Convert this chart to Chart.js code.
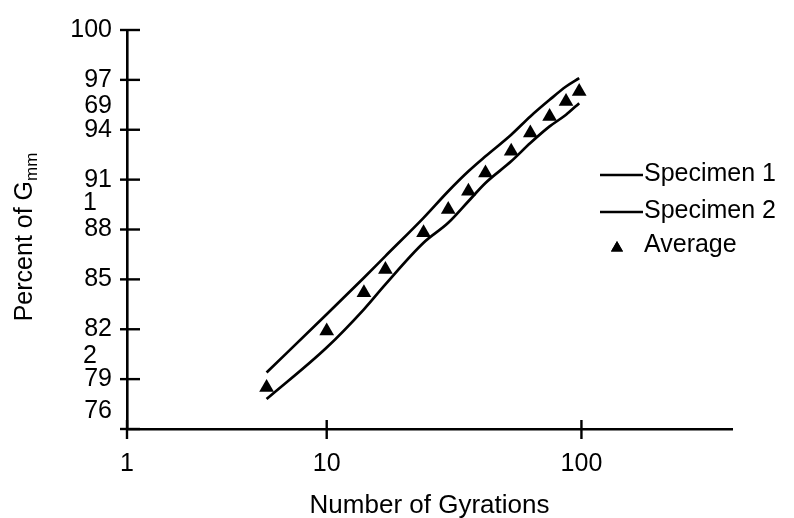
<!DOCTYPE html>
<html>
<head>
<meta charset="utf-8">
<script src="https://cdn.jsdelivr.net/npm/chart.js@4"></script>
<style>
  html, body { margin: 0; padding: 0; background: #fff; }
  #wrap { width: 794px; height: 518px; }
</style>
</head>
<body>
<div id="wrap"><canvas id="gyrationChart" width="794" height="518"></canvas></div>
<script>
// Densification curves, % of Gmm against number of gyrations
const gyrations = [5, 10, 14, 17, 24, 30, 36, 42, 53, 63, 75, 87, 98];
const specimen1 = [79.4, 82.9, 85.1, 86.4, 88.7, 90.3, 91.5, 92.4, 93.7, 94.8, 95.8, 96.6, 97.1];
const specimen2 = [77.8, 80.9, 83.2, 84.7, 87.2, 88.4, 89.7, 90.8, 92.1, 93.2, 94.2, 94.9, 95.6];
const average   = [78.5, 81.9, 84.2, 85.6, 87.8, 89.2, 90.3, 91.4, 92.7, 93.8, 94.8, 95.7, 96.3];

const xTicks = [1, 10, 100];
const yTicks = [76, 79, 82, 85, 88, 91, 94, 97, 100];

const FONT = 'Liberation Sans, Arial, Helvetica, sans-serif';
Chart.defaults.font.family = FONT;
Chart.defaults.font.size = 25;
Chart.defaults.color = '#000';

// the source figure draws the 1-10 decade narrower than 10-100,
// so the log axis gets a piecewise width per decade
const FIRST_DECADE = 0.784;
function warpLog(v) {
    const lv = Math.log10(v);
    return lv <= 1 ? lv * FIRST_DECADE : FIRST_DECADE + (lv - 1);
}
function unwarpLog(u) {
    const lv = u <= FIRST_DECADE ? u / FIRST_DECADE : 1 + (u - FIRST_DECADE);
    return Math.pow(10, lv);
}

class WarpedLogScale extends Chart.LogarithmicScale {
    getPixelForValue(value) {
        if (value === undefined || value === 0) value = this.min;
        if (value === null || isNaN(value)) return NaN;
        const u0 = warpLog(this.min), u1 = warpLog(this.max);
        return this.getPixelForDecimal((warpLog(value) - u0) / (u1 - u0));
    }
    getValueForPixel(pixel) {
        const u0 = warpLog(this.min), u1 = warpLog(this.max);
        return unwarpLog(u0 + this.getDecimalForPixel(pixel) * (u1 - u0));
    }
}
WarpedLogScale.id = 'warpedLog';
WarpedLogScale.defaults = Chart.LogarithmicScale.defaults;
Chart.register(WarpedLogScale);

function pairs(ys) {
    return gyrations.map((g, i) => ({ x: g, y: ys[i] }));
}

function strokeLine(ctx, x1, y1, x2, y2) {
    ctx.beginPath();
    ctx.moveTo(x1, y1);
    ctx.lineTo(x2, y2);
    ctx.stroke();
}

// tick marks crossing the axes, rotated y title with subscript, stray scan digits, legend
const decorPlugin = {
    id: 'decor',
    afterDraw(chart) {
        const { ctx, chartArea: area, scales } = chart;
        const x = scales.x, y = scales.y;
        ctx.save();
        ctx.strokeStyle = '#000';
        ctx.fillStyle = '#000';
        ctx.lineWidth = 2.4;

        y.ticks.forEach(t => {
            const py = y.getPixelForValue(t.value);
            strokeLine(ctx, area.left - 7, py, area.left + 13, py);
        });
        x.ticks.forEach(t => {
            const px = x.getPixelForValue(t.value);
            strokeLine(ctx, px, area.bottom - 9, px, area.bottom + 10);
        });

        // y axis title: Percent of G(mm)
        ctx.save();
        ctx.translate(32, 237);
        ctx.rotate(-Math.PI / 2);
        const main = 'Percent of G';
        ctx.font = '17px ' + FONT;
        const subW = ctx.measureText('mm').width;
        ctx.font = '25px ' + FONT;
        const mainW = ctx.measureText(main).width;
        const start = -(mainW + subW) / 2;
        ctx.textAlign = 'left';
        ctx.textBaseline = 'alphabetic';
        ctx.fillText(main, start, 0);
        ctx.font = '17px ' + FONT;
        ctx.fillText('mm', start + mainW, 5);
        ctx.restore();

        // characters that sit beside the y labels in the scanned original
        ctx.font = '25px ' + FONT;
        ctx.textBaseline = 'middle';
        ctx.textAlign = 'right';
        ctx.fillText('69', 112, y.getPixelForValue(95.4));
        ctx.fillText('76', 112, y.getPixelForValue(77.05));
        ctx.textAlign = 'center';
        ctx.fillText('1', 90, y.getPixelForValue(89.6));
        ctx.fillText('2', 90, y.getPixelForValue(80.4));

        // legend
        const ds = chart.data.datasets;
        ctx.textAlign = 'left';
        ctx.lineWidth = 2.4;
        const rows = [174, 211, 245];
        ds.forEach((d, i) => {
            const ry = rows[i];
            if (d.showLine === false) {
                if (Chart.helpers && Chart.helpers.drawPoint) {
                    Chart.helpers.drawPoint(ctx, { pointStyle: 'triangle', radius: 7, borderWidth: 0 }, 617, ry + 3);
                    ctx.fill();
                }
            } else {
                strokeLine(ctx, 600, ry + 1, 643, ry + 1);
            }
            ctx.fillText(d.label, 644, ry);
        });
        ctx.restore();
    }
};

const ctx = document.getElementById('gyrationChart');
new Chart(ctx, {
    type: 'line',
    data: {
        datasets: [
            {
                label: 'Specimen 1',
                data: pairs(specimen1),
                borderColor: '#000',
                borderWidth: 2.7,
                pointRadius: 0,
                cubicInterpolationMode: 'monotone',
                fill: false
            },
            {
                label: 'Specimen 2',
                data: pairs(specimen2),
                borderColor: '#000',
                borderWidth: 2.7,
                pointRadius: 0,
                cubicInterpolationMode: 'monotone',
                fill: false
            },
            {
                label: 'Average',
                data: pairs(average),
                showLine: false,
                pointStyle: 'triangle',
                pointRadius: 8.5,
                backgroundColor: '#000',
                borderColor: '#000',
                borderWidth: 0
            }
        ]
    },
    options: {
        responsive: false,
        animation: false,
        events: [],
        layout: { padding: { top: 24, right: 62, left: 0, bottom: 0 } },
        plugins: {
            legend: { display: false },
            tooltip: { enabled: false }
        },
        scales: {
            x: {
                type: 'warpedLog',
                min: 1,
                max: 390,
                grid: { display: false, drawTicks: false },
                border: { display: true, color: '#000', width: 2.6 },
                afterBuildTicks: s => { s.ticks = xTicks.map(v => ({ value: v })); },
                afterFit: s => { s.height = 89; },
                ticks: {
                    autoSkip: false,
                    maxRotation: 0,
                    padding: 20,
                    color: '#000',
                    font: { size: 25 },
                    callback: v => String(v)
                },
                title: {
                    display: true,
                    text: 'Number of Gyrations',
                    color: '#000',
                    font: { size: 26, lineHeight: 1 },
                    padding: { top: 0, bottom: -1 }
                }
            },
            y: {
                type: 'linear',
                min: 76,
                max: 100,
                grid: { display: false, drawTicks: false },
                border: { display: true, color: '#000', width: 2.6 },
                afterBuildTicks: s => { s.ticks = yTicks.map(v => ({ value: v })); },
                afterFit: s => { s.width = 127; },
                ticks: {
                    autoSkip: false,
                    padding: 15,
                    color: '#000',
                    font: { size: 25 },
                    callback: v => (v === 76 ? '' : String(v))
                }
            }
        }
    },
    plugins: [decorPlugin]
});
</script>
</body>
</html>
